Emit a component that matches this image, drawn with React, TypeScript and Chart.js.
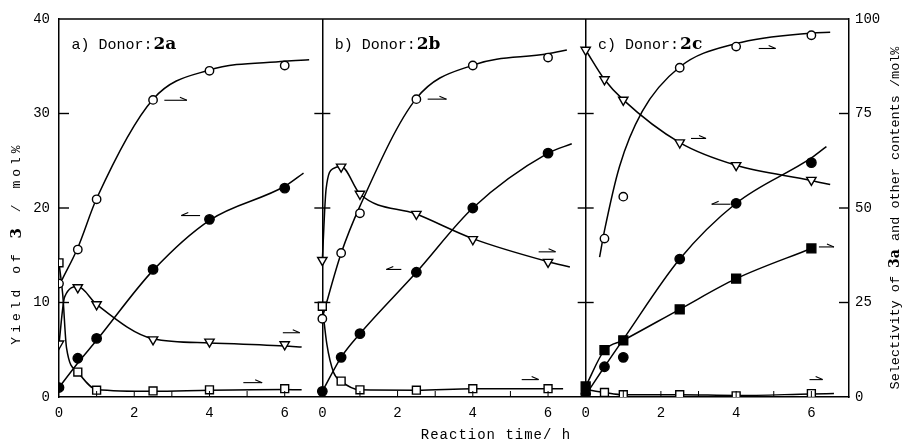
import React, { useEffect, useRef } from 'react';
import { Chart, registerables } from 'chart.js';

Chart.register(...registerables);

// ---------- data ----------
const TIMES = [0, 0.5, 1, 2.5, 4, 6];
const PANEL_OFFSETS = [0, 7, 14];
const PANEL_LABELS = ['a) Donor:', 'b) Donor:', 'c) Donor:'];
const PANEL_DONORS = ['2a', '2b', '2c'];
const X_TICK_LABELS = [0, 2, 4, 6];
const Y_LEFT_TICKS = [0, 10, 20, 30, 40];
const Y_RIGHT_TICKS = [0, 25, 50, 75, 100];

// panel a (markers)
const A_OPEN_CIRCLE = [30.0, 39.0, 52.3, 78.6, 86.3, 87.7];
const A_FILLED_CIRCLE = [1.0, 4.1, 6.2, 13.5, 18.8, 22.1];
const A_TRIANGLE = [14.1, 29.0, 24.5, 15.2, 14.6, 13.9];
const A_OPEN_SQUARE = [35.5, 6.6, 1.8, 1.6, 1.9, 2.2];
// panel b (markers)
const B_OPEN_CIRCLE = [20.7, 38.1, 48.6, 78.8, 87.7, 89.8];
const B_FILLED_CIRCLE = [0.6, 4.2, 6.7, 13.2, 20.0, 25.8];
const B_TRIANGLE = [36.2, 60.9, 53.7, 48.4, 41.7, 35.7];
const B_OPEN_SQUARE = [24.0, 4.2, 1.9, 1.8, 2.2, 2.2];
// panel c (markers)
const C_OPEN_CIRCLE = [null, 41.9, 53.0, 87.1, 92.7, 95.7];
const C_FILLED_CIRCLE = [0.35, 3.2, 4.2, 14.6, 20.5, 24.8];
const C_TRIANGLE = [91.8, 84.0, 78.6, 67.3, 61.3, 57.4];
const C_OPEN_SQUARE = [null, 1.2, 0.6, 0.6, 0.3, 0.9];
const C_FILLED_SQUARE = [2.8, 12.4, 15.0, 23.2, 31.3, 39.3];

// fitted curves: [time, value]
const A_OPEN_CIRCLE_CURVE = [[0.08, 31], [0.5, 39.5], [1, 52.5], [2.5, 78.8], [4, 86.5], [6, 88.8], [6.65, 89.2]];
const A_FILLED_CIRCLE_CURVE = [[0, 1.0], [0.5, 3.6], [1, 6.0], [2.5, 13.4], [4, 18.7], [6, 22.3], [6.5, 23.7]];
const A_TRIANGLE_CURVE = [[0, 14.1], [0.15, 26.5], [0.5, 29.2], [1, 24.5], [2.5, 15.4], [4, 14.3], [6, 13.5], [6.45, 13.2]];
const A_OPEN_SQUARE_CURVE = [[0, 35.5], [0.1, 27], [0.2, 13], [0.5, 6.6], [1, 2.0], [2.5, 1.5], [4, 1.8], [6, 2.0], [6.45, 1.9]];
const B_OPEN_CIRCLE_CURVE = [[0, 21], [0.5, 38], [1, 50.5], [2.5, 79], [4, 87.8], [6, 90.8], [6.5, 91.8]];
const B_FILLED_CIRCLE_CURVE = [[0, 0.6], [0.5, 4.2], [1, 6.7], [2.5, 13.2], [4, 20], [6, 25.8], [6.63, 26.8]];
const B_TRIANGLE_CURVE = [[0, 36.2], [0.1, 55], [0.3, 60.5], [0.5, 61], [1, 53.7], [2.5, 48.4], [4, 41.9], [6, 35.8], [6.58, 34.4]];
const B_OPEN_SQUARE_CURVE = [[0, 24], [0.12, 14], [0.3, 6.5], [0.5, 4.2], [1, 1.9], [2.5, 1.8], [4, 2.2], [6, 2.2], [6.4, 2.2]];
const C_OPEN_CIRCLE_CURVE = [[0.37, 37], [0.5, 44], [0.9, 61], [1.5, 75.5], [2.5, 87.3], [4, 93.5], [6, 96.3], [6.5, 96.5]];
const C_FILLED_CIRCLE_CURVE = [[0, 0.2], [0.5, 3.2], [1, 6.1], [2.5, 14.6], [4, 20.5], [6, 25.3], [6.4, 26.5]];
const C_TRIANGLE_CURVE = [[0, 91.8], [0.5, 84], [1, 78.6], [2.5, 67.3], [4, 61.3], [6, 57.3], [6.5, 56.2]];
const C_FILLED_SQUARE_CURVE = [[0, 2.8], [0.5, 12.4], [1, 15], [2.5, 23.2], [4, 31.3], [6, 39.3]];
const C_OPEN_SQUARE_CURVE = [[0, 2.0], [0.5, 1.2], [1, 0.6], [2.5, 0.6], [4, 0.4], [6, 0.8], [6.6, 0.9]];

// axis-pointing arrows: [panel, t1, t2, axis, value, direction]
const ARROWS: [number, number, number, string, number, number][] = [
  [0, 2.8, 3.4, 'R', 78.5, 1],
  [0, 3.25, 3.75, 'L', 19.2, -1],
  [0, 5.95, 6.4, 'R', 17.0, 1],
  [0, 4.9, 5.4, 'R', 3.8, 1],
  [1, 2.8, 3.3, 'R', 78.8, 1],
  [1, 1.7, 2.1, 'L', 13.5, -1],
  [1, 5.75, 6.2, 'R', 38.4, 1],
  [1, 5.3, 5.75, 'R', 4.6, 1],
  [2, 4.6, 5.05, 'R', 92.2, 1],
  [2, 2.8, 3.2, 'R', 68.4, 1],
  [2, 3.35, 3.85, 'L', 20.4, -1],
  [2, 6.2, 6.6, 'R', 39.7, 1],
  [2, 5.95, 6.3, 'R', 4.6, 1],
];

// ---------- styles ----------
const MONO = '"Liberation Mono", "DejaVu Sans Mono", monospace';
const SERIF = '"DejaVu Serif", "Liberation Serif", serif';

const KINDS: Record<string, any> = {
  openCircle: { pointStyle: 'circle', radius: 4.2, fill: '#fff', rotation: 0 },
  filledCircle: { pointStyle: 'circle', radius: 4.7, fill: '#000', rotation: 0 },
  triangle: { pointStyle: 'triangle', radius: 5.4, fill: '#fff', rotation: 180 },
  openSquare: { pointStyle: 'rect', radius: 5.6, fill: '#fff', rotation: 0 },
  filledSquare: { pointStyle: 'rect', radius: 6.3, fill: '#000', rotation: 0 },
};

const SERIES = [
  { panel: 0, kind: 'openCircle', axis: 'y2', values: A_OPEN_CIRCLE, curve: A_OPEN_CIRCLE_CURVE },
  { panel: 0, kind: 'filledCircle', axis: 'y', values: A_FILLED_CIRCLE, curve: A_FILLED_CIRCLE_CURVE },
  { panel: 0, kind: 'triangle', axis: 'y2', values: A_TRIANGLE, curve: A_TRIANGLE_CURVE },
  { panel: 0, kind: 'openSquare', axis: 'y2', values: A_OPEN_SQUARE, curve: A_OPEN_SQUARE_CURVE },
  { panel: 1, kind: 'openCircle', axis: 'y2', values: B_OPEN_CIRCLE, curve: B_OPEN_CIRCLE_CURVE },
  { panel: 1, kind: 'filledCircle', axis: 'y', values: B_FILLED_CIRCLE, curve: B_FILLED_CIRCLE_CURVE },
  { panel: 1, kind: 'triangle', axis: 'y2', values: B_TRIANGLE, curve: B_TRIANGLE_CURVE },
  { panel: 1, kind: 'openSquare', axis: 'y2', values: B_OPEN_SQUARE, curve: B_OPEN_SQUARE_CURVE },
  { panel: 2, kind: 'openCircle', axis: 'y2', values: C_OPEN_CIRCLE, curve: C_OPEN_CIRCLE_CURVE },
  { panel: 2, kind: 'filledCircle', axis: 'y', values: C_FILLED_CIRCLE, curve: C_FILLED_CIRCLE_CURVE },
  { panel: 2, kind: 'triangle', axis: 'y2', values: C_TRIANGLE, curve: C_TRIANGLE_CURVE },
  { panel: 2, kind: 'openSquare', axis: 'y2', values: C_OPEN_SQUARE, curve: C_OPEN_SQUARE_CURVE },
  { panel: 2, kind: 'filledSquare', axis: 'y2', values: C_FILLED_SQUARE, curve: C_FILLED_SQUARE_CURVE },
];

function buildDatasets() {
  const ds: any[] = [];
  SERIES.forEach((s) => {
    const off = PANEL_OFFSETS[s.panel];
    const k = KINDS[s.kind];
    ds.push({
      data: TIMES.map((t, i) => (s.values[i] == null ? null : { x: t + off, y: s.values[i] })).filter(Boolean),
      yAxisID: s.axis,
      showLine: false,
      pointStyle: k.pointStyle,
      pointRadius: k.radius,
      pointRotation: k.rotation,
      pointBackgroundColor: k.fill,
      pointBorderColor: '#000',
      pointBorderWidth: 1.4,
      order: 1,
    });
    ds.push({
      data: s.curve.map(([t, v]) => ({ x: t + off, y: v })),
      yAxisID: s.axis,
      borderColor: '#000',
      borderWidth: 1.5,
      pointRadius: 0,
      fill: false,
      cubicInterpolationMode: 'monotone',
      order: 2,
    });
  });
  return ds;
}

const X_TICK_VALUES = PANEL_OFFSETS.flatMap((o) => X_TICK_LABELS.map((t) => t + o));

function line(ctx: CanvasRenderingContext2D, x1: number, y1: number, x2: number, y2: number) {
  ctx.beginPath();
  ctx.moveTo(x1, y1);
  ctx.lineTo(x2, y2);
  ctx.stroke();
}

function drawSegments(ctx: CanvasRenderingContext2D, segs: { t: string; font: string; spacing: string }[]) {
  const widths = segs.map((s) => {
    ctx.font = s.font;
    (ctx as any).letterSpacing = s.spacing;
    return ctx.measureText(s.t).width;
  });
  const total = widths.reduce((a, b) => a + b, 0);
  let x = -total / 2;
  segs.forEach((s, i) => {
    ctx.font = s.font;
    (ctx as any).letterSpacing = s.spacing;
    ctx.fillText(s.t, x, 0);
    x += widths[i];
  });
  (ctx as any).letterSpacing = '0px';
}

const decorPlugin = {
  id: 'decor',
  afterDraw(chart: any) {
    const { ctx, chartArea: ca, scales } = chart;
    const xs = scales.x;
    const yL = scales.y;
    const yR = scales.y2;
    ctx.save();
    ctx.strokeStyle = '#000';
    ctx.fillStyle = '#000';
    // top border
    ctx.lineWidth = 1.5;
    line(ctx, ca.left, ca.top, ca.right, ca.top);
    // inward minor ticks on bottom axis
    ctx.lineWidth = 1;
    PANEL_OFFSETS.forEach((off) => {
      for (let t = 1; t <= 6; t++) {
        const px = xs.getPixelForValue(off + t);
        line(ctx, px, ca.bottom, px, ca.bottom - 6);
      }
    });
    // inward ticks on y axes and dividers
    ctx.lineWidth = 1.4;
    [10, 20, 30].forEach((v) => {
      const py = yL.getPixelForValue(v);
      line(ctx, ca.left, py, ca.left + 10, py);
      line(ctx, ca.right - 10, py, ca.right, py);
      [7, 14].forEach((d) => {
        const px = xs.getPixelForValue(d);
        line(ctx, px - 8, py, px + 8, py);
      });
    });
    // arrows
    ctx.lineWidth = 1.1;
    ARROWS.forEach(([p, t1, t2, ax, v, dir]) => {
      const off = PANEL_OFFSETS[p];
      const py = (ax === 'L' ? yL : yR).getPixelForValue(v);
      const x1 = xs.getPixelForValue(off + t1);
      const x2 = xs.getPixelForValue(off + t2);
      line(ctx, x1, py, x2, py);
      if (dir > 0) line(ctx, x2, py, x2 - 7, py - 3);
      else line(ctx, x1, py, x1 + 7, py - 3);
    });
    // panel labels
    ctx.textBaseline = 'alphabetic';
    ctx.textAlign = 'left';
    PANEL_OFFSETS.forEach((off, i) => {
      const px = xs.getPixelForValue(off + 0.33);
      const py = yL.getPixelForValue(36.8);
      ctx.font = `15px ${MONO}`;
      ctx.fillText(PANEL_LABELS[i], px, py);
      const w = ctx.measureText(PANEL_LABELS[i]).width;
      ctx.font = `bold 17px ${SERIF}`;
      ctx.fillText(PANEL_DONORS[i], px + w + 1, py);
    });
    // x title
    ctx.textBaseline = 'middle';
    ctx.save();
    ctx.translate((ca.left + ca.right) / 2 + 42, 435);
    drawSegments(ctx, [{ t: 'Reaction time/ h', font: `14px ${MONO}`, spacing: '1px' }]);
    ctx.restore();
    // left title
    ctx.save();
    ctx.translate(17, 243);
    ctx.rotate(-Math.PI / 2);
    drawSegments(ctx, [
      { t: 'Yield of ', font: `13px ${MONO}`, spacing: '4px' },
      { t: '3', font: `bold 15px ${SERIF}`, spacing: '4px' },
      { t: ' / mol%', font: `13px ${MONO}`, spacing: '4px' },
    ]);
    ctx.restore();
    // right title
    ctx.save();
    ctx.translate(895, 218);
    ctx.rotate(-Math.PI / 2);
    drawSegments(ctx, [
      { t: 'Selectivity of ', font: `13.5px ${MONO}`, spacing: '0px' },
      { t: '3a', font: `bold 14px ${SERIF}`, spacing: '0px' },
      { t: ' and other contents /mol%', font: `13.5px ${MONO}`, spacing: '0px' },
    ]);
    ctx.restore();
    ctx.restore();
  },
};

export default function App() {
  const ref = useRef<HTMLCanvasElement>(null);
  useEffect(() => {
    const chart = new Chart(ref.current as HTMLCanvasElement, {
      type: 'line',
      data: { datasets: buildDatasets() },
      options: {
        animation: false,
        responsive: true,
        maintainAspectRatio: false,
        layout: { padding: { top: 19, left: 0, right: 0, bottom: 0 } },
        plugins: { legend: { display: false }, tooltip: { enabled: false } },
        scales: {
          x: {
            type: 'linear',
            min: 0,
            max: 21,
            afterBuildTicks: (s: any) => {
              s.ticks = X_TICK_VALUES.map((v) => ({ value: v }));
            },
            afterFit: (s: any) => {
              s.height = 48;
            },
            ticks: {
              autoSkip: false,
              maxRotation: 0,
              padding: 8,
              color: '#000',
              font: { family: MONO, size: 14 },
              callback: (v: any) => String(Number(v) % 7),
            },
            grid: {
              drawTicks: false,
              color: (c: any) => (c.tick && (c.tick.value === 7 || c.tick.value === 14) ? '#000' : 'rgba(0,0,0,0)'),
              lineWidth: 1.5,
            },
            border: { color: '#000', width: 1.5 },
          },
          y: {
            type: 'linear',
            position: 'left',
            min: 0,
            max: 40,
            afterBuildTicks: (s: any) => {
              s.ticks = Y_LEFT_TICKS.map((v) => ({ value: v }));
            },
            afterFit: (s: any) => {
              s.width = 59;
            },
            ticks: { padding: 9, color: '#000', font: { family: MONO, size: 14 } },
            grid: { display: false, drawTicks: false },
            border: { color: '#000', width: 1.5 },
          },
          y2: {
            type: 'linear',
            position: 'right',
            min: 0,
            max: 100,
            afterBuildTicks: (s: any) => {
              s.ticks = Y_RIGHT_TICKS.map((v) => ({ value: v }));
            },
            afterFit: (s: any) => {
              s.width = 55;
            },
            ticks: { padding: 6, color: '#000', font: { family: MONO, size: 14 } },
            grid: { display: false, drawTicks: false },
            border: { color: '#000', width: 1.5 },
          },
        },
      } as any,
      plugins: [decorPlugin],
    });
    return () => chart.destroy();
  }, []);
  return (
    <div style={{ position: 'absolute', left: 0, top: 0, width: 904, height: 445 }}>
      <canvas ref={ref} />
    </div>
  );
}
